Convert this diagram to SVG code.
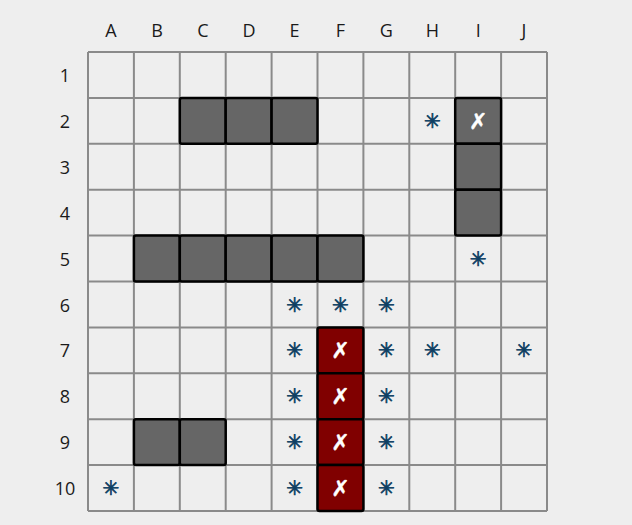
<svg xmlns="http://www.w3.org/2000/svg" width="632" height="525" viewBox="0 0 632 525">
<style>
.bg{fill:#eeeeee}
.grid{fill:none;stroke:#8a8a8a;stroke-width:2}
.lbl{font-family:"Open Sans","Noto Sans",sans-serif;font-size:18px;fill:#1a1a1a;text-anchor:middle;dominant-baseline:central}
.ship{fill:#666666;stroke:#000;stroke-width:2.5}
.sunk{fill:#800000;stroke:#000;stroke-width:2.5}
.x{font-family:"DejaVu Sans",sans-serif;font-size:22px;fill:#fff;stroke:#fff;stroke-width:0.5;text-anchor:middle;dominant-baseline:central}
.miss{font-family:"DejaVu Sans",sans-serif;font-size:20px;fill:#0e3f63;stroke:#0e3f63;stroke-width:0.7;text-anchor:middle;dominant-baseline:central}
</style>
<rect class="bg" x="0" y="0" width="632" height="525"/>
<g id="labels">
<text class="lbl" x="111" y="30">A</text><text class="lbl" x="157" y="30">B</text><text class="lbl" x="203" y="30">C</text><text class="lbl" x="249" y="30">D</text><text class="lbl" x="294.6" y="30">E</text><text class="lbl" x="340.5" y="30">F</text><text class="lbl" x="386.4" y="30">G</text><text class="lbl" x="432.3" y="30">H</text><text class="lbl" x="478.2" y="30">I</text><text class="lbl" x="524" y="30">J</text>
<text class="lbl" x="65" y="75">1</text><text class="lbl" x="65" y="121">2</text><text class="lbl" x="65" y="166.8">3</text><text class="lbl" x="65" y="212.7">4</text><text class="lbl" x="65" y="258.6">5</text><text class="lbl" x="65" y="304.5">6</text><text class="lbl" x="65" y="350.4">7</text><text class="lbl" x="65" y="396.3">8</text><text class="lbl" x="65" y="442.2">9</text><text class="lbl" x="65" y="488">10</text>
</g>
<g id="grid">
<path class="grid" d="M88 52V511M133.9 52V511M179.8 52V511M225.7 52V511M271.6 52V511M317.5 52V511M363.4 52V511M409.3 52V511M455.2 52V511M501.1 52V511M547 52V511M88 52H547M88 97.9H547M88 143.8H547M88 189.7H547M88 235.6H547M88 281.5H547M88 327.4H547M88 373.3H547M88 419.2H547M88 465.1H547M88 511H547"/>
</g>
<g id="ships">
<g id="C2"><rect class="ship" x="179.8" y="97.9" width="45.9" height="45.9" rx="2"/></g>
<g id="D2"><rect class="ship" x="225.7" y="97.9" width="45.9" height="45.9" rx="2"/></g>
<g id="E2"><rect class="ship" x="271.6" y="97.9" width="45.9" height="45.9" rx="2"/></g>
<g id="I2"><rect class="ship" x="455.2" y="97.9" width="45.9" height="45.9" rx="2"/><text class="x" x="478.2" y="121">✗</text></g>
<g id="I3"><rect class="ship" x="455.2" y="143.8" width="45.9" height="45.9" rx="2"/></g>
<g id="I4"><rect class="ship" x="455.2" y="189.7" width="45.9" height="45.9" rx="2"/></g>
<g id="B5"><rect class="ship" x="133.9" y="235.6" width="45.9" height="45.9" rx="2"/></g>
<g id="C5"><rect class="ship" x="179.8" y="235.6" width="45.9" height="45.9" rx="2"/></g>
<g id="D5"><rect class="ship" x="225.7" y="235.6" width="45.9" height="45.9" rx="2"/></g>
<g id="E5"><rect class="ship" x="271.6" y="235.6" width="45.9" height="45.9" rx="2"/></g>
<g id="F5"><rect class="ship" x="317.5" y="235.6" width="45.9" height="45.9" rx="2"/></g>
<g id="B9"><rect class="ship" x="133.9" y="419.2" width="45.9" height="45.9" rx="2"/></g>
<g id="C9"><rect class="ship" x="179.8" y="419.2" width="45.9" height="45.9" rx="2"/></g>
<g id="F7"><rect class="sunk" x="317.5" y="327.4" width="45.9" height="45.9" rx="2"/><text class="x" x="340.5" y="350.4">✗</text></g>
<g id="F8"><rect class="sunk" x="317.5" y="373.3" width="45.9" height="45.9" rx="2"/><text class="x" x="340.5" y="396.3">✗</text></g>
<g id="F9"><rect class="sunk" x="317.5" y="419.2" width="45.9" height="45.9" rx="2"/><text class="x" x="340.5" y="442.2">✗</text></g>
<g id="F10"><rect class="sunk" x="317.5" y="465.1" width="45.9" height="45.9" rx="2"/><text class="x" x="340.5" y="488">✗</text></g>
</g>
<g id="misses">
<text class="miss" x="432.3" y="121">✳︎</text>
<text class="miss" x="478.2" y="258.6">✳︎</text>
<text class="miss" x="294.6" y="304.5">✳︎</text>
<text class="miss" x="340.5" y="304.5">✳︎</text>
<text class="miss" x="386.4" y="304.5">✳︎</text>
<text class="miss" x="294.6" y="350.4">✳︎</text>
<text class="miss" x="386.4" y="350.4">✳︎</text>
<text class="miss" x="432.3" y="350.4">✳︎</text>
<text class="miss" x="524" y="350.4">✳︎</text>
<text class="miss" x="294.6" y="396.3">✳︎</text>
<text class="miss" x="386.4" y="396.3">✳︎</text>
<text class="miss" x="294.6" y="442.2">✳︎</text>
<text class="miss" x="386.4" y="442.2">✳︎</text>
<text class="miss" x="111" y="488">✳︎</text>
<text class="miss" x="294.6" y="488">✳︎</text>
<text class="miss" x="386.4" y="488">✳︎</text>
</g>
</svg>
